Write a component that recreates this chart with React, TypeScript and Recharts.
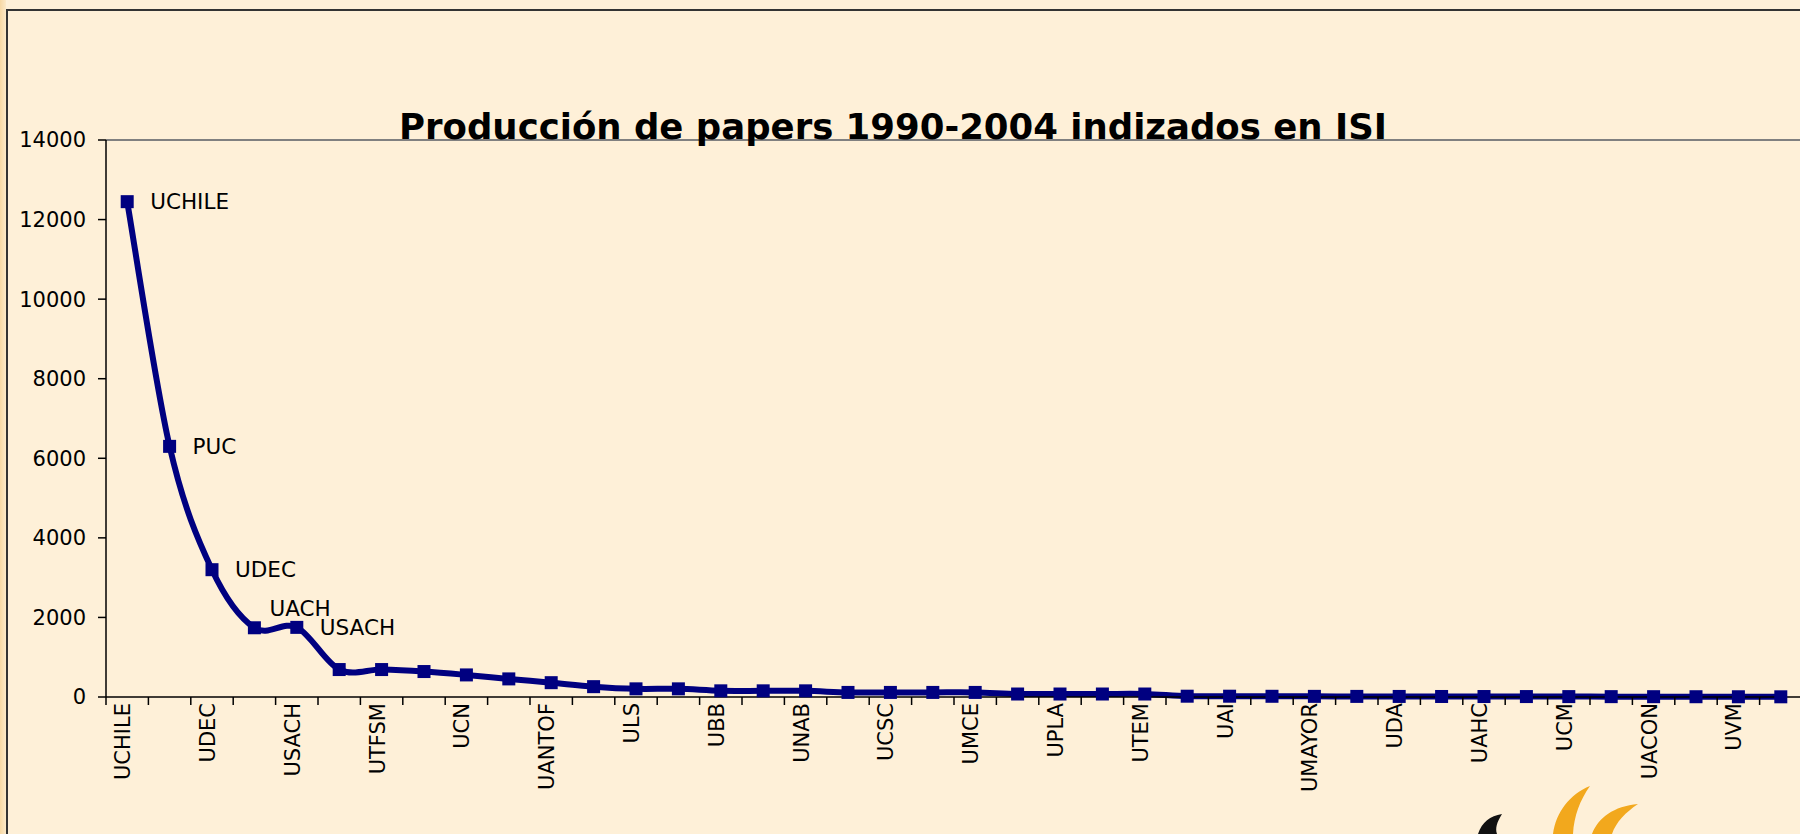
import { LineChart, Line, XAxis, YAxis, LabelList, ReferenceLine } from "recharts";

// Universidades (solo las de índice par se rotulan en el eje)
const universidades = [
  "UCHILE", "PUC", "UDEC", "UACH", "USACH", "UFRO", "UTFSM", "UV", "UCN", "UTAL",
  "UANTOF", "PUCV", "ULS", "UTA", "UBB", "UMAG", "UNAB", "UCT", "UCSC", "UANDES",
  "UMCE", "UDP", "UPLA", "ULAGOS", "UTEM", "UNAP", "UAI", "UCSH", "UMAYOR", "UFT",
  "UDA", "UCINF", "UAHC", "UBO", "UCM", "UCEN", "UACON", "UST", "UVM", "UDLA",
];

// Papers ISI 1990-2004
const papers = [
  12450, 6300, 3200, 1740, 1750, 690, 690, 640, 555, 455,
  360, 260, 205, 205, 155, 155, 155, 115, 115, 115,
  115, 75, 75, 75, 75, 20, 20, 18, 16, 15,
  14, 13, 12, 11, 10, 9, 8, 7, 6, 5,
];

// Etiquetas de datos visibles
const rotuladas = ["UCHILE", "PUC", "UDEC", "UACH", "USACH"];

const yTicks = [0, 2000, 4000, 6000, 8000, 10000, 12000, 14000];

const chartData = universidades.map((name, i) => ({
  x: i + 0.5,
  name,
  papers: papers[i],
  label: rotuladas.includes(name) ? name : "",
}));

// marcas de división entre categorías + centros para los rótulos
const xTicks = universidades.flatMap((_, i) => [i, i + 0.5]).concat([universidades.length]);

const NAVY = "#000080";
const FONT = "DejaVu Sans";

// suavizado tipo Excel (Catmull-Rom)
const excelSmooth = (context: any) => {
  let pts: [number, number][] = [];
  return {
    areaStart() {},
    areaEnd() {},
    lineStart() {
      pts = [];
    },
    lineEnd() {
      if (!pts.length) return;
      context.moveTo(pts[0][0], pts[0][1]);
      for (let i = 0; i < pts.length - 1; i++) {
        const p0 = pts[i - 1] || pts[i];
        const p1 = pts[i];
        const p2 = pts[i + 1];
        const p3 = pts[i + 2] || p2;
        context.bezierCurveTo(
          p1[0] + (p2[0] - p0[0]) / 6,
          p1[1] + (p2[1] - p0[1]) / 6,
          p2[0] - (p3[0] - p1[0]) / 6,
          p2[1] - (p3[1] - p1[1]) / 6,
          p2[0],
          p2[1]
        );
      }
    },
    point(x: number, y: number) {
      pts.push([x, y]);
    },
  };
};

const SquareDot = ({ cx, cy, index }: any) => (
  <rect key={index} x={cx - 6.5} y={cy - 6.5} width={13} height={13} fill={NAVY} />
);

const CategoryTick = ({ x, y, payload }: any) => {
  const v = payload.value;
  if (Number.isInteger(v)) {
    return <line x1={x} x2={x} y1={y - 8} y2={y} stroke="#000" strokeWidth={1.5} />;
  }
  const i = Math.floor(v);
  if (i % 2 !== 0) return null;
  const tx = x + 3;
  const ty = y - 2;
  return (
    <text
      x={tx}
      y={ty}
      transform={`rotate(-90, ${tx}, ${ty})`}
      textAnchor="end"
      fontSize={21}
      fontFamily={FONT}
      fill="#000"
    >
      {universidades[i]}
    </text>
  );
};

const PointLabel = ({ x, y, value }: any) => {
  if (!value) return null;
  const arriba = value === "UACH";
  return (
    <text
      x={x + (arriba ? 15 : 23)}
      y={y + (arriba ? -19 : 0)}
      dominantBaseline="central"
      fontSize={21.5}
      fontFamily={FONT}
      fill="#000"
    >
      {value}
    </text>
  );
};

export default function App() {
  return (
    <div
      style={{
        position: "absolute",
        left: 0,
        top: 0,
        width: 1800,
        height: 834,
        overflow: "hidden",
        background: "#FEF0D8",
      }}
    >
      {/* franja y marco de la diapositiva */}
      <div style={{ position: "absolute", left: 0, top: 0, width: 6, height: 834, background: "linear-gradient(90deg, #F7D8A4, #FCE9C8)" }} />
      <div style={{ position: "absolute", left: 6, top: 9, width: 1800, height: 900, borderLeft: "2px solid #333", borderTop: "2px solid #333" }} />

      <div style={{ position: "absolute", left: 0, top: 0 }}>
        <LineChart width={1812} height={834} data={chartData} margin={{ top: 140, right: 10, left: 0, bottom: 0 }}>
          <XAxis
            dataKey="x"
            type="number"
            domain={[0, universidades.length]}
            ticks={xTicks}
            interval={0}
            tick={<CategoryTick />}
            tickLine={false}
            tickSize={8}
            tickMargin={0}
            height={137}
            axisLine={{ stroke: "#000", strokeWidth: 1.5 }}
          />
          <YAxis
            domain={[0, 14000]}
            ticks={yTicks}
            interval={0}
            width={106}
            tickSize={8}
            tickMargin={12}
            tick={{ fontSize: 21, fontFamily: FONT, fill: "#000" }}
            tickLine={{ stroke: "#000", strokeWidth: 1.5 }}
            axisLine={{ stroke: "#000", strokeWidth: 1.5 }}
          />
          <ReferenceLine y={14000} stroke="#808080" strokeWidth={2} />
          <Line
            dataKey="papers"
            type={excelSmooth as any}
            stroke={NAVY}
            strokeWidth={6}
            dot={<SquareDot />}
            activeDot={false}
            isAnimationActive={false}
          >
            <LabelList dataKey="label" content={<PointLabel />} />
          </Line>
        </LineChart>
      </div>

      {/* título y logo */}
      <svg width={1800} height={834} style={{ position: "absolute", left: 0, top: 0, pointerEvents: "none" }}>
        <text x={893} y={139} textAnchor="middle" fontSize={35.5} fontWeight="bold" fontFamily={FONT} fill="#000">
          Producción de papers 1990-2004 indizados en ISI
        </text>
        <path d="M1478,834 C1482,822 1490,816 1502,814 C1497,822 1495,828 1497,834 Z" fill="#111" />
        <path d="M1553,834 C1556,812 1570,794 1590,786 C1580,800 1574,816 1573,834 Z" fill="#F2A81D" />
        <path d="M1592,834 C1598,818 1614,806 1638,804 C1626,812 1616,822 1612,834 Z" fill="#F2A81D" />
      </svg>
    </div>
  );
}
